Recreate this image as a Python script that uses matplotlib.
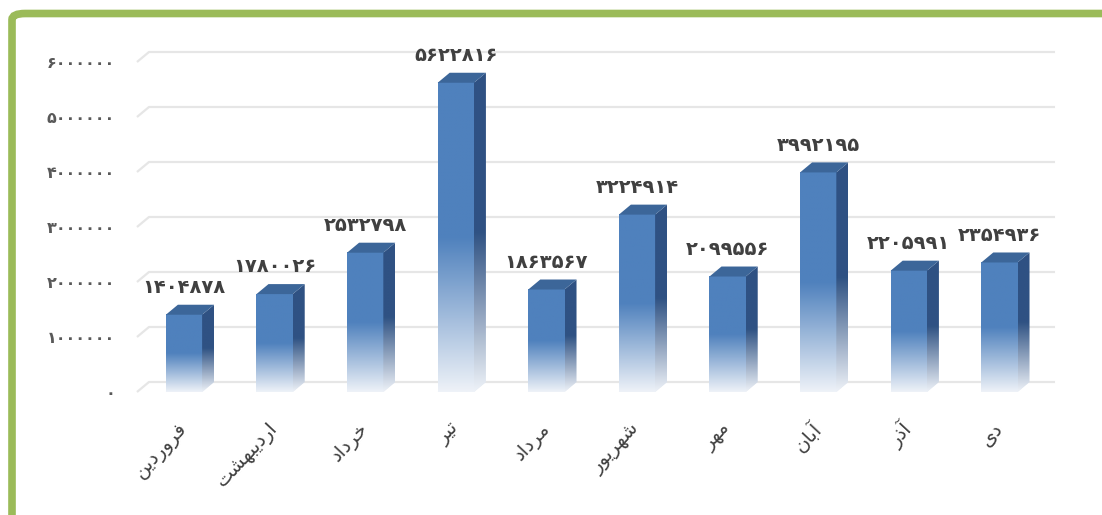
import numpy as np
import matplotlib
matplotlib.use('Agg')
import matplotlib.pyplot as plt
from matplotlib.patches import Polygon, FancyBboxPatch
from matplotlib.colors import to_rgb

# monthly values (Persian calendar months)
months = ['فروردین', 'اردیبهشت', 'خرداد', 'تیر', 'مرداد', 'شهریور', 'مهر', 'آبان', 'آذر', 'دی']
values = [1404878, 1780026, 2532798, 5622816, 1863567, 3224914, 2099556, 3992195, 2205991, 2354936]
yticks = [0, 1000000, 2000000, 3000000, 4000000, 5000000, 6000000]

# presentation forms: isolated, final, initial, medial
FORMS = {
    'ا': ('\ufe8d', '\ufe8e', None, None),
    'آ': ('\ufe81', '\ufe82', None, None),
    'ب': ('\ufe8f', '\ufe90', '\ufe91', '\ufe92'),
    'ت': ('\ufe95', '\ufe96', '\ufe97', '\ufe98'),
    'خ': ('\ufea5', '\ufea6', '\ufea7', '\ufea8'),
    'د': ('\ufea9', '\ufeaa', None, None),
    'ذ': ('\ufeab', '\ufeac', None, None),
    'ر': ('\ufead', '\ufeae', None, None),
    'ش': ('\ufeb5', '\ufeb6', '\ufeb7', '\ufeb8'),
    'ف': ('\ufed1', '\ufed2', '\ufed3', '\ufed4'),
    'م': ('\ufee1', '\ufee2', '\ufee3', '\ufee4'),
    'ن': ('\ufee5', '\ufee6', '\ufee7', '\ufee8'),
    'ه': ('\ufee9', '\ufeea', '\ufeeb', '\ufeec'),
    'و': ('\ufeed', '\ufeee', None, None),
    'ی': ('\ufbfc', '\ufbfd', '\ufbfe', '\ufbff'),
}


def shape(word):
    # join arabic letters by hand and flip to visual order
    out = []
    for k, ch in enumerate(word):
        f = FORMS[ch]
        jp = k > 0 and FORMS[word[k - 1]][2] is not None
        jn = k < len(word) - 1 and f[2] is not None
        if jp and jn:
            g = f[3]
        elif jp:
            g = f[1]
        elif jn:
            g = f[2]
        else:
            g = f[0]
        out.append(g)
    return ''.join(reversed(out))


fa_digits = str.maketrans('0123456789', '۰۱۲۳۴۵۶۷۸۹')

plt.rcParams['font.family'] = ['DejaVu Sans']

fig = plt.figure(figsize=(11.02, 5.15), dpi=100)
ax = fig.add_axes([122 / 1102, 113 / 515, 958 / 1102, 382 / 515])

px_x = 90.6           # pixels per category
px_v = 55 / 1000000   # pixels per unit value
dx = 12 / px_x
dy = 10 / px_v
w = 0.2

front = np.array(to_rgb('#4F81BD'))
side = np.array(to_rgb('#2F5283'))
topc = '#3C6699'
light = np.array(to_rgb('#EEF2F8'))


def grad(base, n=200):
    t = np.linspace(0, 1, n)
    f = np.clip(t / 0.5, 0, 1)[:, None]
    col = light + (base - light) * f
    return col[:, None, :]


# back wall gridlines with the little floor bend
for v in yticks:
    ax.plot([-0.519, -0.519 + dx, 9.614], [v, v + dy, v + dy], color='#E6E6E6', lw=1.6, zorder=0,
            solid_capstyle='butt')

for i, v in enumerate(values):
    # faint floor shadow under each bar
    ax.add_patch(Polygon([(i - w, 0), (i + w, 0), (i + w + dx, dy), (i - w + dx, dy)],
                         closed=True, facecolor='#E3E9F2', edgecolor='none', zorder=1))
    ax.imshow(grad(front), extent=[i - w, i + w, 0, v], origin='lower', aspect='auto',
              interpolation='bilinear', zorder=2)
    sp = Polygon([(i + w, 0), (i + w + dx, dy), (i + w + dx, v + dy), (i + w, v)],
                 closed=True, facecolor='none', edgecolor='none')
    ax.add_patch(sp)
    im = ax.imshow(grad(side), extent=[i + w, i + w + dx, 0, v + dy], origin='lower', aspect='auto',
                   interpolation='bilinear', zorder=2)
    im.set_clip_path(sp)
    ax.add_patch(Polygon([(i - w, v), (i + w, v), (i + w + dx, v + dy), (i - w + dx, v + dy)],
                         closed=True, facecolor=topc, edgecolor='none', zorder=3))
    ax.annotate(str(v).translate(fa_digits), (i, v + dy), xytext=(0, 12.5),
                textcoords='offset points', ha='center', va='center', fontsize=14,
                fontweight='bold', color='#404040')

ax.set_xlim((122 - 184) / px_x, (1080 - 184) / px_x)
ax.set_ylim((392 - 402) / px_v, (392 - 20) / px_v)

ax.set_yticks(yticks)
ax.set_yticklabels([str(t).translate(fa_digits) for t in yticks], fontsize=11.5,
                   fontweight='bold', color='#595959')
ax.set_xticks(range(len(months)))
ax.set_xticklabels([shape(m) for m in months], rotation=47, ha='right', va='center',
                   rotation_mode='anchor', fontsize=14, color='#404040')
ax.tick_params(axis='y', length=0, pad=5)
ax.tick_params(axis='x', length=0, pad=17)
for s in ax.spines.values():
    s.set_visible(False)

# green frame on the top-left
fig.patches.append(FancyBboxPatch((12 / 1102, -0.2), 1.2, (515 - 13.5) / 515 + 0.2,
                                  boxstyle='round,pad=0,rounding_size=0.012',
                                  transform=fig.transFigure, facecolor='none',
                                  edgecolor='#9BBB59', lw=5.5, zorder=10))

fig.savefig('out.png', dpi=100)
